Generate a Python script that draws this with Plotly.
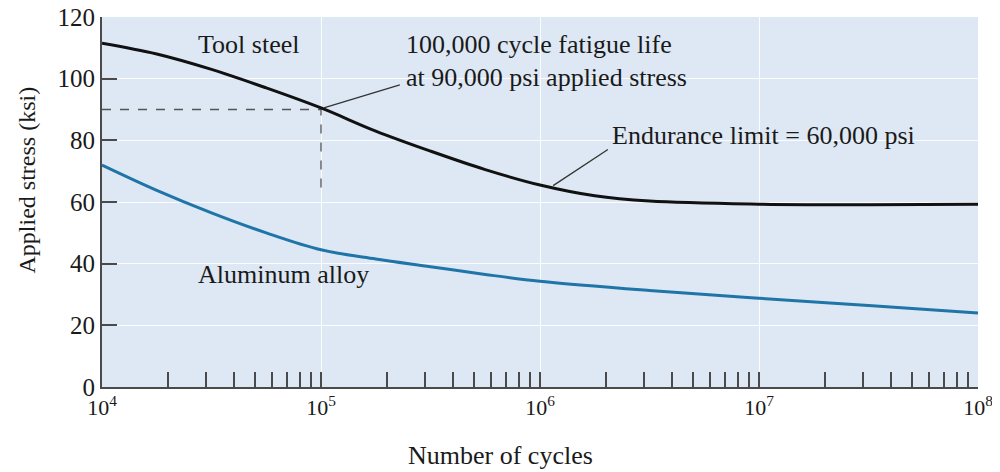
import plotly.graph_objects as go

# Tool steel S-N curve (cycles, ksi)
steel_cycles = [1e4, 10**4.25, 10**4.5, 10**4.75, 1e5, 10**5.25, 10**5.5, 10**5.75,
                1e6, 10**6.25, 10**6.5, 1e7, 10**7.5, 1e8]
steel_stress = [111.5, 108, 103, 97, 90.5, 83, 76.5, 70.5, 65.5, 62, 60.3, 59.3, 59.1, 59.3]

# Aluminum alloy S-N curve
alu_cycles = [1e4, 10**4.25, 10**4.5, 10**4.75, 1e5, 10**5.25, 10**5.5, 10**5.75,
              1e6, 10**6.5, 1e7, 10**7.5, 1e8]
alu_stress = [72, 63.8, 56.5, 50, 44.5, 41.5, 39, 36.5, 34.3, 31.3, 28.8, 26.4, 24]

# reference lines for the 100,000 cycle point
ref_cycles = [1e4, 1e5, 1e5]
ref_stress = [90, 90, 63]

decades = [1e4, 1e5, 1e6, 1e7, 1e8]
decade_labels = ["10<sup>4</sup>", "10<sup>5</sup>", "10<sup>6</sup>", "10<sup>7</sup>", "10<sup>8</sup>"]
minor_vals = [m * 10**e for e in range(4, 8) for m in range(2, 11)]
y_ticks = [0, 20, 40, 60, 80, 100, 120]

FONT = "Liberation Serif, Times New Roman, serif"
TEXT_COLOR = "#1a1a1a"
AXIS_COLOR = "#4a4a4a"
STEEL_COLOR = "#111111"
ALU_COLOR = "#1f74a8"

fig = go.Figure()

fig.add_trace(go.Scatter(
    x=ref_cycles, y=ref_stress, mode="lines",
    line={"color": "#555555", "width": 1.3, "dash": "dash"},
    hoverinfo="skip",
))
fig.add_trace(go.Scatter(
    x=steel_cycles, y=steel_stress, mode="lines",
    line={"color": STEEL_COLOR, "width": 3, "shape": "spline", "smoothing": 1.0},
    name="Tool steel",
))
fig.add_trace(go.Scatter(
    x=alu_cycles, y=alu_stress, mode="lines",
    line={"color": ALU_COLOR, "width": 3, "shape": "spline", "smoothing": 1.0},
    name="Aluminum alloy",
))

text_font = {"family": FONT, "size": 26, "color": TEXT_COLOR}

annotations = [
    dict(x=4.67, y=111, text="Tool steel", xanchor="center"),
    dict(x=4.83, y=36.4, text="Aluminum alloy", xanchor="center"),
    dict(x=5.38, y=111, text="100,000 cycle fatigue life", xanchor="left"),
    dict(x=5.38, y=100.5, text="at 90,000 psi applied stress", xanchor="left"),
    dict(x=6.32, y=81.5, text="Endurance limit = 60,000 psi", xanchor="left"),
]
for a in annotations:
    a.update(xref="x", yref="y", showarrow=False, font=text_font)

# axis titles sit off-centre in the original, so they are placed as annotations
annotations.append(dict(
    x=0.455, y=-0.184, xref="paper", yref="paper", text="Number of cycles",
    xanchor="center", yanchor="middle",
    showarrow=False, font={"family": FONT, "size": 26, "color": TEXT_COLOR},
))
annotations.append(dict(
    x=-0.086, y=0.56, xref="paper", yref="paper", text="Applied stress (ksi)",
    xanchor="center", yanchor="middle", textangle=-90,
    showarrow=False, font={"family": FONT, "size": 24, "color": TEXT_COLOR},
))
fig.update_layout(annotations=annotations)

# leader lines for the callouts (shapes use data values on a log axis)
fig.add_shape(type="line", xref="x", yref="y", x0=1.03e5, y0=90.5, x1=10**5.36, y1=98,
              line={"color": "#333333", "width": 1.3})
fig.add_shape(type="line", xref="x", yref="y", x0=10**6.06, y0=65.3, x1=10**6.31, y1=77,
              line={"color": "#333333", "width": 1.3})

# the page body adds an 8px margin, so the figure is 8px smaller each way
fig.update_layout(
    width=992,
    height=464,
    margin={"l": 94, "r": 22, "t": 9, "b": 85},
    paper_bgcolor="white",
    plot_bgcolor="#dde8f4",
    showlegend=False,
    font={"family": FONT, "color": TEXT_COLOR, "size": 24},
)

fig.update_xaxes(
    type="log",
    range=[4, 8],
    automargin=False,
    tickvals=decades,
    ticktext=decade_labels,
    ticks="inside",
    ticklen=15,
    tickwidth=1.8,
    tickcolor=AXIS_COLOR,
    tickfont={"family": FONT, "size": 22, "color": TEXT_COLOR},
    ticklabeloverflow="allow",
    showgrid=True,
    gridcolor="rgba(255,255,255,0.85)",
    gridwidth=1,
    showline=True,
    linecolor=AXIS_COLOR,
    linewidth=2,
    zeroline=False,
    minor={"tickvals": minor_vals, "ticks": "inside", "ticklen": 15,
           "tickwidth": 1.8, "tickcolor": AXIS_COLOR, "showgrid": False},
)

fig.update_yaxes(
    range=[0, 120],
    automargin=False,
    tickvals=y_ticks,
    ticks="inside",
    ticklen=15,
    tickwidth=1.8,
    tickcolor=AXIS_COLOR,
    tickfont={"family": FONT, "size": 25, "color": TEXT_COLOR},
    ticklabeloverflow="allow",
    showgrid=True,
    gridcolor="rgba(255,255,255,0.85)",
    gridwidth=1,
    showline=True,
    linecolor=AXIS_COLOR,
    linewidth=2,
    zeroline=False,
)

fig.write_html("out.html")
